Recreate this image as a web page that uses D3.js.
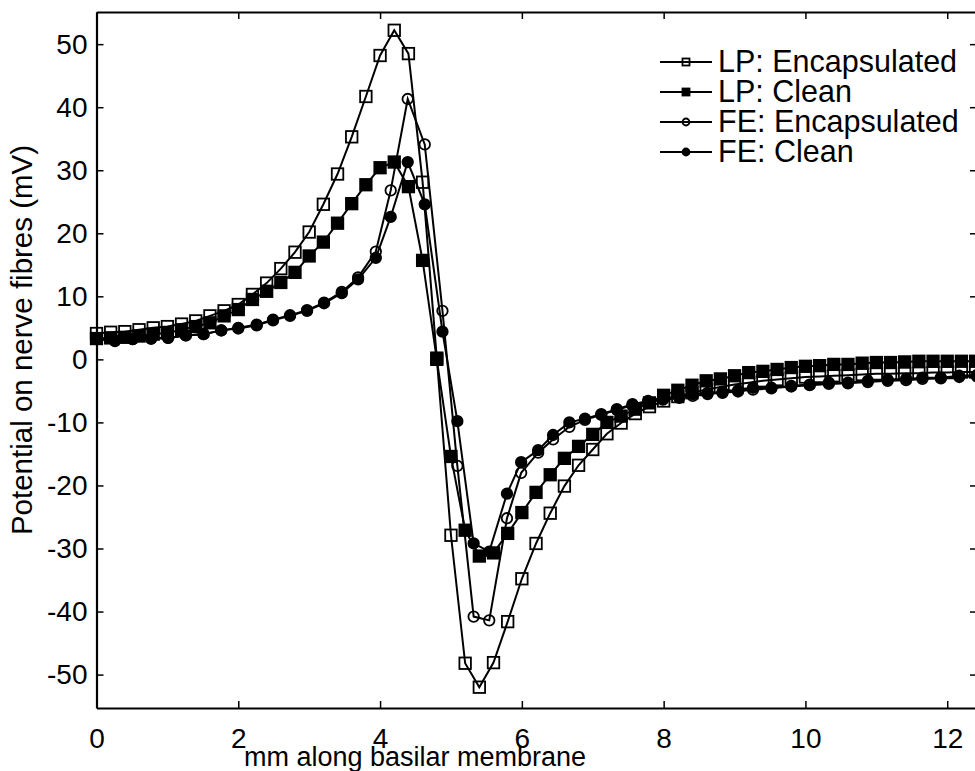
<!DOCTYPE html>
<html>
<head>
<meta charset="utf-8">
<style>
body { margin: 0; background: #fff; }
svg { display: block; font-family: "Liberation Sans", Arial, sans-serif; }
</style>
</head>
<body>
<svg width="975" height="771"></svg>
<script src="https://cdn.jsdelivr.net/npm/d3@7"></script>
<script>

// LP model: one point every 0.2 mm
var lpX = [0, 0.2, 0.4, 0.6, 0.8, 1.0, 1.2, 1.4, 1.6, 1.8, 2.0, 2.2, 2.4, 2.6, 2.8, 3.0,
    3.2, 3.4, 3.6, 3.8, 4.0, 4.2, 4.4, 4.6, 4.8, 5.0, 5.2, 5.4, 5.6, 5.8, 6.0, 6.2,
    6.4, 6.6, 6.8, 7.0, 7.2, 7.4, 7.6, 7.8, 8.0, 8.2, 8.4, 8.6, 8.8, 9.0, 9.2, 9.4,
    9.6, 9.8, 10.0, 10.2, 10.4, 10.6, 10.8, 11.0, 11.2, 11.4, 11.6, 11.8, 12.0, 12.2, 12.4];

var lpEncapsulated = [4.1, 4.3, 4.4, 4.7, 5.0, 5.2, 5.6, 6.1, 6.9, 7.7, 8.7, 10.3, 12.1, 14.4, 17.0, 20.2,
    24.6, 29.4, 35.3, 41.7, 48.2, 52.2, 48.5, 28.1, 0.2, -27.9, -48.2, -52.0, -48.1, -41.6, -34.8, -29.2,
    -24.4, -20.1, -16.8, -14.3, -11.8, -10.1, -8.6, -7.5, -6.6, -5.9, -5.3, -4.8, -4.4, -4.0, -3.7, -3.4,
    -3.2, -3.0, -2.8, -2.7, -2.6, -2.5, -2.4, -2.3, -2.3, -2.2, -2.2, -2.1, -2.1, -2.0, -2.0];

var lpClean = [3.3, 3.4, 3.5, 3.7, 4.0, 4.2, 4.7, 5.2, 5.8, 6.9, 7.9, 9.5, 10.8, 12.2, 13.8, 16.4,
    18.6, 21.6, 24.7, 27.7, 30.4, 31.3, 27.4, 15.7, 0.0, -15.4, -27.1, -31.2, -30.7, -27.6, -24.3, -21.1,
    -18.3, -15.7, -13.8, -11.9, -10.0, -9.0, -7.9, -6.9, -5.7, -4.9, -4.1, -3.4, -3.1, -2.6, -2.1, -1.9,
    -1.6, -1.3, -1.1, -1.0, -0.8, -0.8, -0.6, -0.5, -0.5, -0.4, -0.3, -0.3, -0.3, -0.3, -0.3];

// FE model: its own (uneven) mesh
var feX = [0, 0.26, 0.51, 0.77, 1.01, 1.26, 1.51, 1.76, 2.0, 2.26, 2.49, 2.73, 2.97, 3.21, 3.46, 3.69,
    3.94, 4.15, 4.39, 4.63, 4.88, 5.09, 5.32, 5.54, 5.79, 5.99, 6.23, 6.44, 6.67, 6.89, 7.12, 7.34,
    7.56, 7.78, 7.99, 8.22, 8.41, 8.62, 8.83, 9.05, 9.26, 9.52, 9.80, 10.06, 10.33, 10.6, 10.88, 11.16,
    11.42, 11.65, 11.91, 12.17, 12.42];

var feEncapsulated = [3.2, 3.0, 3.2, 3.3, 3.4, 3.8, 4.0, 4.6, 5.0, 5.5, 6.3, 7.0, 7.8, 9.0, 10.7, 13.0,
    17.1, 26.8, 41.3, 34.1, 7.7, -16.9, -40.8, -41.4, -25.2, -18.0, -14.8, -12.7, -10.7, -9.6, -8.8, -8.0,
    -7.3, -6.8, -6.4, -6.1, -5.8, -5.5, -5.3, -5.1, -4.8, -4.6, -4.3, -4.1, -3.9, -3.8, -3.6, -3.4,
    -3.3, -3.1, -3.0, -2.8, -2.7];

var feClean = [3.2, 2.9, 3.2, 3.3, 3.4, 3.8, 4.0, 4.6, 4.9, 5.4, 6.2, 6.9, 7.7, 8.9, 10.5, 12.7,
    16.1, 22.6, 31.3, 24.6, 4.4, -9.8, -29.2, -30.5, -21.3, -16.3, -14.4, -12.0, -10.0, -9.4, -8.7, -7.9,
    -7.1, -6.6, -6.2, -5.9, -5.5, -5.3, -5.2, -4.9, -4.5, -4.5, -4.2, -4.0, -3.7, -3.7, -3.4, -3.2,
    -3.1, -2.9, -2.9, -2.6, -2.5];

var seriesNames = ["LP: Encapsulated", "LP: Clean", "FE: Encapsulated", "FE: Clean"];
var xTicks = [0, 2, 4, 6, 8, 10, 12];
var yTicks = [-50, -40, -30, -20, -10, 0, 10, 20, 30, 40, 50];

var svg = d3.select("svg");

var x = d3.scaleLinear().domain([0, 12.42]).range([96.5, 977]),
    y = d3.scaleLinear().domain([-55.3, 55.1]).range([708, 12]);

var series = [
    { name: seriesNames[0], xs: lpX, ys: lpEncapsulated, shape: "square", filled: false },
    { name: seriesNames[1], xs: lpX, ys: lpClean, shape: "square", filled: true },
    { name: seriesNames[2], xs: feX, ys: feEncapsulated, shape: "circle", filled: false },
    { name: seriesNames[3], xs: feX, ys: feClean, shape: "circle", filled: true }
];
series.forEach(function(s) {
  s.points = s.xs.map(function(v, i) { return { x: v, y: s.ys[i] }; });
});

var line = d3.line()
    .x(function(d) { return x(d.x); })
    .y(function(d) { return y(d.y); });

function marker(sel, s, size) {
  if (s.shape === "square") {
    sel.append("rect")
        .attr("x", -size / 2).attr("y", -size / 2)
        .attr("width", size).attr("height", size);
  } else {
    sel.append("circle").attr("r", size / 2);
  }
  sel.selectAll("rect, circle")
      .attr("fill", s.filled ? "#000" : "none")
      .attr("stroke", "#000")
      .attr("stroke-width", 1.8);
}

// plain hyphen for negatives, like the original
var plain = function(d) { return String(d); };

// axes, ticks pointing inward
var tickFont = function(g) {
  g.selectAll("text").style("font-size", "28px").attr("fill", "#000");
  g.selectAll("line").attr("stroke-width", 1.5);
  g.select(".domain").attr("stroke-width", 2.2);
};

svg.append("g")
    .attr("transform", "translate(0,708)")
    .call(d3.axisBottom(x).tickValues(xTicks).tickFormat(plain).tickSizeInner(-7).tickSizeOuter(0).tickPadding(20))
    .call(tickFont);
svg.append("g")
    .attr("transform", "translate(0,12)")
    .call(d3.axisTop(x).tickValues(xTicks).tickSizeInner(-7).tickSizeOuter(0).tickFormat(""))
    .call(tickFont);
svg.append("g")
    .attr("transform", "translate(96.5,0)")
    .call(d3.axisLeft(y).tickValues(yTicks).tickFormat(plain).tickSizeInner(-7).tickSizeOuter(0).tickPadding(9))
    .call(tickFont);
svg.append("g")
    .attr("transform", "translate(977,0)")
    .call(d3.axisRight(y).tickValues(yTicks).tickSizeInner(-7).tickSizeOuter(0).tickFormat(""))
    .call(tickFont);

// data
series.forEach(function(s) {
  var g = svg.append("g");
  g.append("path")
      .datum(s.points)
      .attr("fill", "none")
      .attr("stroke", "#000")
      .attr("stroke-width", 2)
      .attr("d", line);
  g.selectAll(".pt")
      .data(s.points)
      .enter().append("g")
      .attr("class", "pt")
      .attr("transform", function(d) { return "translate(" + x(d.x) + "," + y(d.y) + ")"; })
      .each(function() { marker(d3.select(this), s, s.shape === "square" ? 11.5 : 10.5); });
});

// legend
var legend = svg.append("g").attr("transform", "translate(660,62)");
series.forEach(function(s, i) {
  var row = legend.append("g").attr("transform", "translate(0," + (i * 30) + ")");
  row.append("line")
      .attr("x1", 0).attr("x2", 52)
      .attr("stroke", "#000").attr("stroke-width", 2);
  row.append("g")
      .attr("transform", "translate(26,0)")
      .each(function() { marker(d3.select(this), s, 7); });
  row.append("text")
      .attr("x", 58)
      .attr("y", 10)
      .style("font-size", "30.5px")
      .text(s.name);
});

// axis titles
svg.append("text")
    .attr("x", 415)
    .attr("y", 766)
    .attr("text-anchor", "middle")
    .style("font-size", "27px")
    .text("mm along basilar membrane");

svg.append("text")
    .attr("transform", "translate(32,340) rotate(-90)")
    .attr("text-anchor", "middle")
    .style("font-size", "29.5px")
    .text("Potential on nerve fibres (mV)");

</script>
</body></html>
